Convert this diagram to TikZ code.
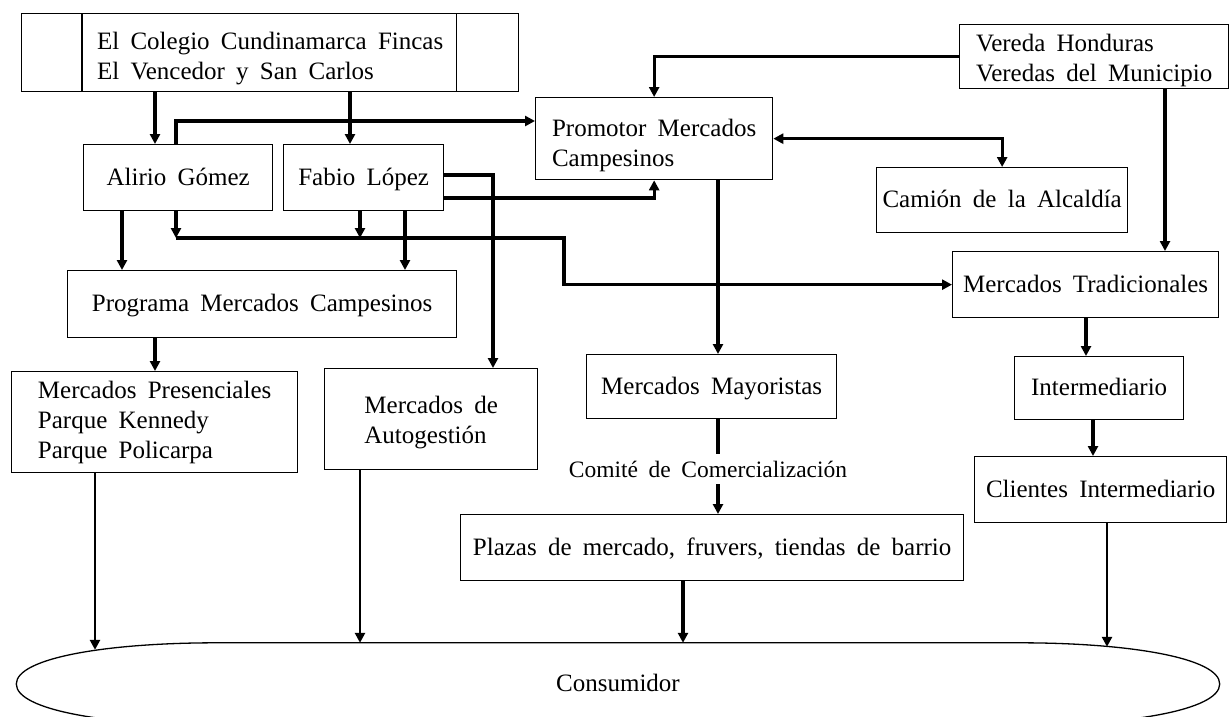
\documentclass[tikz,border=0pt]{standalone}
\usepackage{fontspec}
\setmainfont[WordSpace=1.8]{Liberation Serif}
\usetikzlibrary{arrows.meta}

\begin{document}
\begin{tikzpicture}[
      x=1pt, y=-1pt,
      every node/.style={font=\fontsize{25}{30}\selectfont},
      box/.style={draw, line width=1.3pt, anchor=north west, align=left, inner sep=0pt},
      one/.style={text height=16pt, text depth=1pt},
      arrow/.style={line width=3.2pt, ->, >={Triangle[length=10pt,width=10pt]}},
      thinarrow/.style={arrow, line width=2.8pt},
      dblarrow/.style={line width=3.2pt, <->, >={Triangle[length=10pt,width=10pt]}},
      link/.style={line width=3.2pt}
    ]
      \useasboundingbox (0,0) rectangle (1230,716);
      \clip (0,0) rectangle (1230,716);

      % Boxes
      \node[box, minimum width=497pt, minimum height=78pt] (colegio) at (21,13) {\rule{0pt}{29pt}El Colegio Cundinamarca Fincas\\El Vencedor y San Carlos};
      \draw[line width=1.3pt] ([xshift=61pt]colegio.north west) -- ([xshift=61pt]colegio.south west);
      \draw[line width=1.3pt] ([xshift=-63pt]colegio.north east) -- ([xshift=-63pt]colegio.south east);

      \node[box, one, minimum width=189pt, minimum height=66pt] (alirio) at (83,144) {Alirio Gómez};
      \node[box, one, minimum width=160pt, minimum height=66pt] (fabio) at (283,144) {Fabio López};
      \node[box, minimum width=237pt, minimum height=82pt] (promotor) at (535,97) {\rule{0pt}{31pt}Promotor Mercados\\Campesinos};
      \node[box, minimum width=269pt, minimum height=64pt] (vereda) at (959,24) {\rule{0pt}{25pt}Vereda Honduras\\Veredas del Municipio};
      \node[box, one, minimum width=251pt, minimum height=65pt] (camion) at (876,167) {Camión de la Alcaldía};
      \node[box, one, minimum width=266pt, minimum height=66pt] (tradicionales) at (952,251) {Mercados Tradicionales};
      \node[box, one, minimum width=389pt, minimum height=67pt] (programa) at (67,270) {Programa Mercados Campesinos};
      \node[box, one, minimum width=169pt, minimum height=63pt] (intermediario) at (1014,356) {Intermediario};
      \node[box, minimum width=286pt, minimum height=101pt] (presenciales) at (11,371) {Mercados Presenciales\\Parque Kennedy\\Parque Policarpa};
      \node[box, minimum width=213pt, minimum height=101pt] (autogestion) at (324,368) {\rule{0pt}{24pt}Mercados de\\Autogestión};
      \node[box, one, minimum width=250pt, minimum height=64pt] (mayoristas) at (586,354) {Mercados Mayoristas};
      \node[box, one, minimum width=252pt, minimum height=66pt] (clientes) at (974,456) {Clientes Intermediario};
      \node[box, one, minimum width=503pt, minimum height=66pt] (plazas) at (460,514) {Plazas de mercado, fruvers, tiendas de barrio};
      \node[inner sep=7pt, font=\fontsize{23.5}{28}\selectfont] (comite) at (708,469) {Comité de Comercialización};

      % Consumidor
      \node[one, minimum width=1203pt, minimum height=82pt, inner sep=0pt] (consumidor) at (618,684) {Consumidor};
      \draw[line width=1.3pt] (consumidor.west) .. controls +(0,-26) and +(-110,0) .. ([xshift=200pt]consumidor.north west)
        -- ([xshift=-200pt]consumidor.north east) .. controls +(110,0) and +(0,-26) .. (consumidor.east)
        .. controls +(0,26) and +(110,0) .. ([xshift=-200pt]consumidor.south east)
        -- ([xshift=200pt]consumidor.south west) .. controls +(-110,0) and +(0,26) .. (consumidor.west);

      % Lanes
      \coordinate (c95) at (95,0);
      \coordinate (c122) at (122,0);
      \coordinate (c155) at (155,0);
      \coordinate (c176) at (176,0);
      \coordinate (c350) at (350,0);
      \coordinate (c360) at (360,0);
      \coordinate (c405) at (405,0);
      \coordinate (c493) at (493,0);
      \coordinate (c564) at (564,0);
      \coordinate (c683) at (683,0);
      \coordinate (c718) at (718,0);
      \coordinate (c1086) at (1086,0);
      \coordinate (c1093) at (1093,0);
      \coordinate (c1107) at (1107,0);
      \coordinate (c1165) at (1165,0);
      \coordinate (r121) at (0,121);
      \coordinate (r175) at (0,175);
      \coordinate (r198) at (0,198);
      \coordinate (r238) at (0,238);

      % Arrows
      \draw[arrow] (colegio.south -| c155) -- (alirio.north -| c155);
      \draw[arrow] (colegio.south -| c350) -- (fabio.north -| c350);
      \draw[arrow] (alirio.north -| c176) |- (promotor.west |- r121);
      \draw[arrow] (fabio.east |- r198) -| (promotor.south);
      \draw[arrow] (fabio.east |- r175) -| (autogestion.north -| c493);
      \draw[arrow] (vereda.west) -| (promotor.north);
      \draw[dblarrow] (promotor.east) -| (camion.north);
      \draw[arrow] (vereda.south -| c1165) -- (tradicionales.north -| c1165);

      \draw[arrow] (alirio.south -| c176) -- (c176 |- r238);
      \draw[arrow] (fabio.south -| c360) -- (c360 |- r238);
      \draw[arrow] (c176 |- r238) -- (c564 |- r238) |- (tradicionales.west);
      \draw[arrow] (alirio.south -| c122) -- (programa.north -| c122);
      \draw[arrow] (fabio.south -| c405) -- (programa.north -| c405);
      \draw[arrow] (programa.south -| c155) -- (presenciales.north -| c155);

      \draw[arrow] (promotor.south -| c718) -- (mayoristas.north -| c718);
      \draw[link] (mayoristas.south -| c718) -- (comite.north -| c718);
      \draw[arrow] (comite.south -| c718) -- (plazas.north -| c718);
      \draw[arrow] (tradicionales.south -| c1086) -- (intermediario.north -| c1086);
      \draw[arrow] (intermediario.south -| c1093) -- (clientes.north -| c1093);

      % To the consumer
      \draw[thinarrow] (presenciales.south -| c95) -- ([yshift=-7pt]consumidor.north -| c95);
      \draw[thinarrow] (autogestion.south -| c360) -- (consumidor.north -| c360);
      \draw[arrow] (plazas.south -| c683) -- (consumidor.north -| c683);
      \draw[thinarrow] (clientes.south -| c1107) -- ([yshift=-4pt]consumidor.north -| c1107);

    \end{tikzpicture}
\end{document}
